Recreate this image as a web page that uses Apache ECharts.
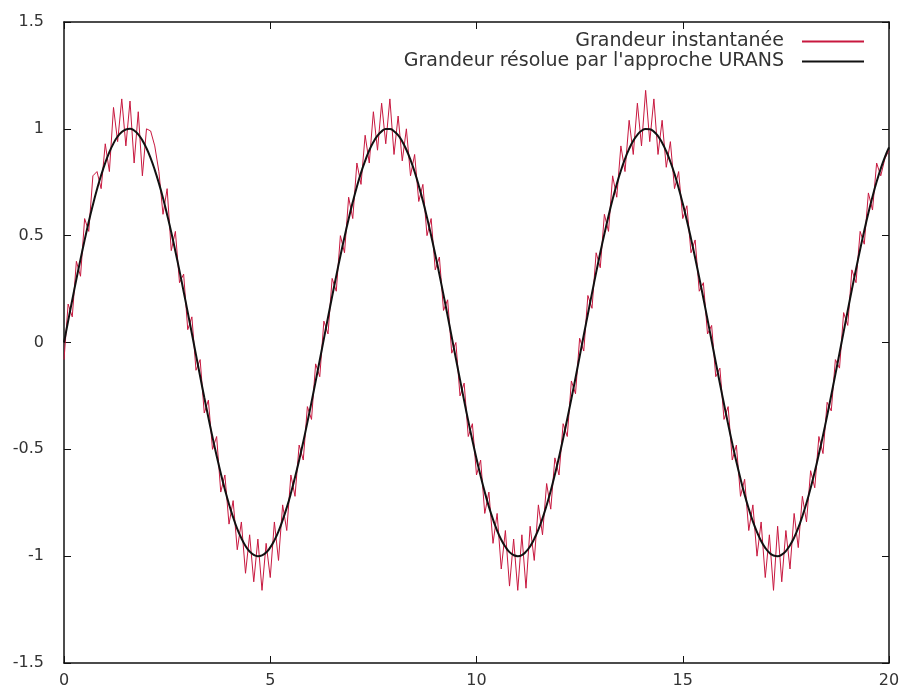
<!DOCTYPE html>
<html>
<head>
<meta charset="utf-8">
<script src="https://cdn.jsdelivr.net/npm/echarts@6/dist/echarts.min.js"></script>
<style>
  html, body { margin: 0; padding: 0; background: #fff; }
  #chart { width: 904px; height: 695px; }
</style>
</head>
<body>
<div id="chart"></div>
<script>
// abscisses (pas de 0.1, de 0 à 20)
const xValues = []
for (let k = 0; k <= 200; k++) xValues.push(+(k / 10).toFixed(1))

// grandeur résolue (URANS)
const urans = [
  0, 0.100, 0.199, 0.296, 0.389, 0.479, 0.565, 0.644, 0.717, 0.783,
  0.841, 0.891, 0.932, 0.964, 0.985, 0.997, 1.000, 0.992, 0.974, 0.946,
  0.909, 0.863, 0.808, 0.746, 0.676, 0.598, 0.516, 0.427, 0.335, 0.239,
  0.141, 0.042, -0.058, -0.158, -0.256, -0.351, -0.443, -0.530, -0.612, -0.688,
  -0.757, -0.818, -0.872, -0.916, -0.952, -0.978, -0.994, -1.000, -0.996, -0.983,
  -0.959, -0.926, -0.884, -0.832, -0.773, -0.706, -0.631, -0.551, -0.465, -0.374,
  -0.279, -0.182, -0.083, 0.017, 0.117, 0.215, 0.312, 0.405, 0.494, 0.578,
  0.657, 0.729, 0.794, 0.850, 0.899, 0.938, 0.968, 0.988, 0.999, 0.999,
  0.989, 0.970, 0.941, 0.902, 0.855, 0.799, 0.734, 0.663, 0.585, 0.501,
  0.412, 0.319, 0.223, 0.125, 0.025, -0.075, -0.174, -0.272, -0.367, -0.458,
  -0.544, -0.625, -0.700, -0.768, -0.828, -0.880, -0.923, -0.956, -0.981, -0.995,
  -1.000, -0.995, -0.979, -0.954, -0.919, -0.876, -0.823, -0.762, -0.694, -0.618,
  -0.537, -0.450, -0.358, -0.263, -0.166, -0.066, 0.034, 0.133, 0.231, 0.327,
  0.420, 0.508, 0.592, 0.670, 0.741, 0.804, 0.859, 0.906, 0.944, 0.972,
  0.991, 0.999, 0.998, 0.987, 0.966, 0.935, 0.895, 0.846, 0.789, 0.723,
  0.650, 0.571, 0.486, 0.397, 0.303, 0.207, 0.108, 0.008, -0.092, -0.191,
  -0.288, -0.382, -0.472, -0.558, -0.638, -0.712, -0.778, -0.837, -0.887, -0.929,
  -0.961, -0.984, -0.997, -1.000, -0.993, -0.976, -0.949, -0.913, -0.868, -0.813,
  -0.751, -0.681, -0.605, -0.522, -0.435, -0.343, -0.247, -0.149, -0.050, 0.050,
  0.150, 0.248, 0.343, 0.435, 0.523, 0.606, 0.682, 0.752, 0.814, 0.868,
  0.913
]

// grandeur instantanée (signal bruité)
const instant = [
  -0.08, 0.18, 0.12, 0.38, 0.31, 0.58, 0.52, 0.78, 0.80, 0.72,
  0.93, 0.80, 1.10, 0.94, 1.14, 0.92, 1.13, 0.84, 1.08, 0.78,
  1.00, 0.99, 0.92, 0.80, 0.60, 0.72, 0.43, 0.52, 0.28, 0.32,
  0.06, 0.12, -0.13, -0.08, -0.33, -0.27, -0.50, -0.44, -0.70, -0.62,
  -0.85, -0.74, -0.97, -0.84, -1.08, -0.90, -1.12, -0.92, -1.16, -0.94,
  -1.10, -0.84, -1.02, -0.76, -0.88, -0.62, -0.72, -0.48, -0.55, -0.30,
  -0.36, -0.10, -0.16, 0.10, 0.04, 0.30, 0.24, 0.50, 0.42, 0.68,
  0.58, 0.84, 0.74, 0.97, 0.84, 1.08, 0.90, 1.12, 0.93, 1.14,
  0.88, 1.06, 0.85, 1.00, 0.78, 0.88, 0.66, 0.74, 0.50, 0.58,
  0.34, 0.40, 0.15, 0.20, -0.05, 0.00, -0.25, -0.19, -0.44, -0.38,
  -0.62, -0.55, -0.80, -0.70, -0.94, -0.80, -1.06, -0.88, -1.14, -0.92,
  -1.16, -0.90, -1.15, -0.86, -1.02, -0.76, -0.90, -0.66, -0.78, -0.54,
  -0.62, -0.38, -0.44, -0.18, -0.24, 0.02, -0.04, 0.22, 0.16, 0.42,
  0.35, 0.60, 0.52, 0.78, 0.68, 0.92, 0.80, 1.04, 0.88, 1.12,
  0.92, 1.18, 0.94, 1.14, 0.88, 1.04, 0.82, 0.94, 0.72, 0.80,
  0.58, 0.64, 0.42, 0.48, 0.24, 0.28, 0.04, 0.08, -0.16, -0.12,
  -0.36, -0.30, -0.55, -0.48, -0.72, -0.64, -0.88, -0.76, -1.00, -0.84,
  -1.10, -0.90, -1.16, -0.86, -1.12, -0.88, -1.06, -0.80, -0.96, -0.72,
  -0.84, -0.60, -0.68, -0.44, -0.52, -0.28, -0.32, -0.08, -0.12, 0.14,
  0.08, 0.34, 0.28, 0.52, 0.46, 0.70, 0.62, 0.84, 0.78, 0.86,
  0.90
]

const yTicks = { min: -1.5, max: 1.5, interval: 0.5 }
const xTicks = { min: 0, max: 20, interval: 5 }

const chart = echarts.init(document.getElementById('chart'))

const axisLine = { show: true, onZero: false, lineStyle: { color: '#111', width: 1.5 } }
const axisTick = { show: true, inside: true, length: 7, lineStyle: { color: '#111', width: 1 } }
const labelFont = { color: '#333', fontSize: 16, fontFamily: 'DejaVu Sans' }

chart.setOption({
  animation: false,
  backgroundColor: '#fff',
  grid: { left: 64, right: 15, top: 22, bottom: 32, containLabel: false, outerBoundsMode: 'none' },
  legend: {
    orient: 'vertical',
    right: 35,
    top: 27,
    align: 'right',
    itemWidth: 62,
    itemHeight: 2,
    itemGap: 1,
    icon: 'rect',
    textStyle: { color: '#333', fontSize: 19, fontFamily: 'DejaVu Sans', padding: [0, 13, 0, 0], lineHeight: 18 },
    data: ['Grandeur instantanée', 'Grandeur résolue par l\'approche URANS']
  },
  xAxis: [
    {
      type: 'value', position: 'bottom', ...xTicks,
      axisLine, axisTick, splitLine: { show: false },
      axisLabel: { ...labelFont, margin: 10 }
    },
    {
      type: 'value', position: 'top', ...xTicks,
      axisLine, axisTick, splitLine: { show: false },
      axisLabel: { show: false }
    }
  ],
  yAxis: [
    {
      type: 'value', position: 'left', ...yTicks,
      axisLine, axisTick, splitLine: { show: false },
      axisLabel: { ...labelFont, margin: 20 }
    },
    {
      type: 'value', position: 'right', ...yTicks,
      axisLine, axisTick, splitLine: { show: false },
      axisLabel: { show: false }
    }
  ],
  series: [
    {
      name: 'Grandeur instantanée',
      type: 'line',
      showSymbol: false,
      data: xValues.map((x, i) => [x, instant[i]]),
      lineStyle: { color: '#c8183f', width: 1 },
      itemStyle: { color: '#c8183f' }
    },
    {
      name: 'Grandeur résolue par l\'approche URANS',
      type: 'line',
      showSymbol: false,
      smooth: true,
      data: xValues.map((x, i) => [x, urans[i]]),
      lineStyle: { color: '#111', width: 2 },
      itemStyle: { color: '#111' }
    }
  ]
})
</script>
</body>
</html>
